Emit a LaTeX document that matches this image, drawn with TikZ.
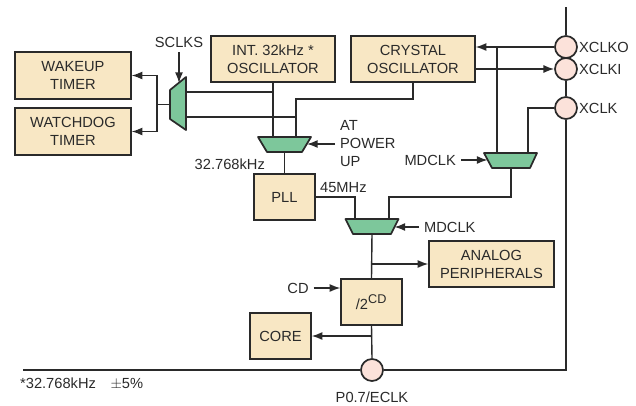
\documentclass[tikz,border=0pt]{standalone}
\usepackage{fontspec}
\setmainfont{Liberation Sans}
\usetikzlibrary{arrows.meta}
\definecolor{boxfill}{RGB}{248,231,196}
\definecolor{muxfill}{RGB}{125,199,155}
\definecolor{pinfill}{RGB}{252,226,218}
\definecolor{ink}{RGB}{42,42,42}
\begin{document}
\begin{tikzpicture}[x=0.75pt,y=-0.75pt,color=ink,line width=1.05pt,
  font=\fontsize{11}{13.5}\selectfont,
  box/.style={draw,fill=boxfill,align=center,inner sep=0pt},
  bigbox/.style={box,minimum width=93pt,minimum height=34.5pt},
  smallbox/.style={box,minimum width=45.75pt,minimum height=34.5pt},
  pin/.style={circle,draw,fill=pinfill,minimum size=16.5pt,inner sep=0pt,line width=1.3pt},
  mux/.style={draw,fill=muxfill,line width=1.3pt,line join=round},
  arr/.style={-{Latex[length=8pt,width=6pt]}},
  bus/.style={line width=1.6pt}]
\useasboundingbox (0,0) rectangle (636,405);
% blocks
\node[box,minimum width=87pt,minimum height=35.25pt] (wake) at (73,75.5) {WAKEUP\\TIMER};
\node[box,minimum width=87pt,minimum height=35.25pt] (dog) at (73,131.5) {WATCHDOG\\TIMER};
\node[bigbox] (intosc) at (273,59) {INT. 32kHz *\\OSCILLATOR};
\node[bigbox] (xtal) at (413,59) {CRYSTAL\\OSCILLATOR};
\node[smallbox] (pll) at (284.5,197) {PLL};
\node[bigbox,minimum width=93.75pt] (analog) at (491.5,264) {ANALOG\\PERIPHERALS};
\node[smallbox] (div) at (371.5,302) {/2\textsuperscript{\fontsize{9.5}{9.5}\selectfont CD}};
\node[smallbox] (core) at (280.5,336) {CORE};
% pins
\node[pin] (xclko) at (566,47) {};
\node[pin] (xclki) at (566,69) {};
\node[pin] (xclk) at (566,108) {};
\node[pin] (eclk) at (372,370) {};
\node[anchor=west] (lxclko) at (574,47) {XCLKO};
\node[anchor=west] (lxclki) at (574,69) {XCLKI};
\node[anchor=west] (lxclk) at (574,108) {XCLK};
\node (leclk) at (372,397) {P0.7/ECLK};
\node[anchor=west] (note) at (15,384) {*32.768kHz\quad$\pm$5\%};
% labels
\node (sclks) at (179,42) {SCLKS};
\node[anchor=west,align=left] (atpu) at (335,144) {AT\\POWER\\UP};
\node[anchor=east] (f32) at (270,164) {32.768kHz};
\node[anchor=west] (f45) at (315,188) {45MHz};
\node[anchor=east] (mdclka) at (461,160) {MDCLK};
\node[anchor=west] (mdclkb) at (419,227) {MDCLK};
\node (cd) at (298,288) {CD};
% mux pins
\coordinate (smuxin1) at (186,92);
\coordinate (smuxin2) at (186,117);
\coordinate (smuxout) at (170,104.5);
\coordinate (smuxsel) at (179,83);
\coordinate (sfork) at (157,104.5);
\coordinate (pmuxin1) at (273,137);
\coordinate (pmuxin2) at (296,137);
\coordinate (pmuxout) at (284.5,152);
\coordinate (pmuxsel) at (307,144);
\coordinate (xbend) at (296,99);
\coordinate (cmuxin1) at (497,153);
\coordinate (cmuxin2) at (528,153);
\coordinate (cmuxout) at (511,168);
\coordinate (cmuxsel) at (487.5,160);
\coordinate (mmuxin1) at (355,219);
\coordinate (mmuxin2) at (389,219);
\coordinate (mmuxout) at (372,234);
\coordinate (mmuxsel) at (394.5,227);
\coordinate (mbend) at (389,197);
\coordinate (afork) at (372,264);
\coordinate (cfork) at (372,336);
\coordinate (bustop) at (566,7);
\coordinate (buscorner) at (566,370);
\coordinate (busend) at (23,370);
% wires
\draw (intosc.south) -- (pmuxin1);
\draw (smuxin1) -- (smuxin1 -| pmuxin1);
\draw (xtal.south) |- (xbend) -- (pmuxin2);
\draw (smuxin2) -- (smuxin2 -| pmuxin2);
\draw (smuxout) -- (sfork);
\draw[arr] (sfork) |- (wake.east);
\draw[arr] (sfork) |- (dog.east);
\draw[arr] (sclks) -- (smuxsel);
\draw[arr] (atpu.west) -- (pmuxsel);
\draw (pmuxout) -- (pll.north);
\draw (pll.east) -| (mmuxin1);
\draw (mmuxin2) -- (mbend) -| (cmuxout);
\draw[arr] (mdclka.east) -- (cmuxsel);
\draw[arr] (mdclkb.west) -- (mmuxsel);
\draw[arr] (xclko.west) -- (xclko.west -| xtal.east);
\draw (cmuxin1) -- (cmuxin1 |- xclko.west);
\draw[arr] (xclki.west -| xtal.east) -- (xclki.west);
\draw (xclk.west) -| (cmuxin2);
\draw (mmuxout) -- (div.north);
\draw[arr] (afork) -- (analog.west);
\draw[arr] (cd) -- (cd -| div.west);
\draw (div.south) -- (eclk.north);
\draw[arr] (cfork) -- (core.east);
\draw[bus] (bustop) -- (xclko.north);
\draw[bus] (xclko.south) -- (xclki.north);
\draw[bus] (xclki.south) -- (xclk.north);
\draw[bus] (xclk.south) -- (buscorner) -- (eclk.east);
\draw[bus] (eclk.west) -- (busend);
% muxes
\draw[mux] (186,77) -- (186,130) -- (170,119) -- (170,90) -- cycle;
\draw[mux] (258,137) -- (311,137) -- (302,152) -- (267,152) -- cycle;
\draw[mux] (484,153) -- (537,153) -- (530,168) -- (492,168) -- cycle;
\draw[mux] (345.5,219) -- (398.5,219) -- (391,234) -- (353,234) -- cycle;
\end{tikzpicture}
\end{document}
